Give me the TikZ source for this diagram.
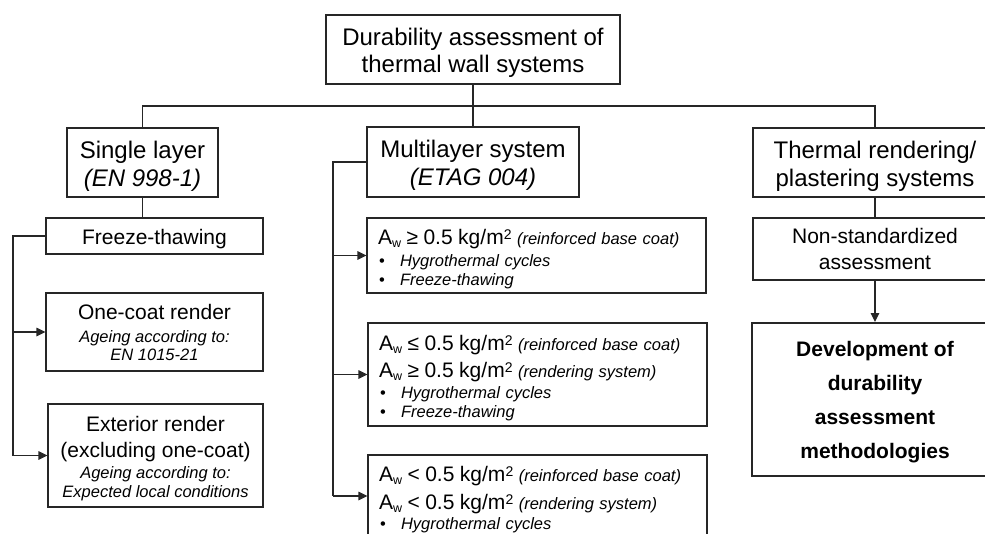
\documentclass[tikz,border=0pt]{standalone}
\usepackage{fontspec}
\setmainfont{Liberation Sans}
\usetikzlibrary{arrows.meta}

\newcommand{\fsbig}{\fontsize{24}{28}\selectfont}
\newcommand{\fsmid}{\fontsize{21}{25}\selectfont}
\newcommand{\fssmall}{\fontsize{16.5}{19}\selectfont}
\newcommand{\topstrut}{\rule{0pt}{1em}}
\newcommand{\awstrut}{\rule{0pt}{23pt}}
\newcommand{\Aw}{A\raisebox{-3pt}{\fontsize{12.5}{12.5}\selectfont w}}
\newcommand{\kgm}{kg/m\raisebox{5.5pt}{\fontsize{14}{14}\selectfont 2}}
\newcommand{\blt}[1]{\makebox[22pt][l]{\hspace{1pt}•}\textit{#1}}

\begin{document}
\begin{tikzpicture}[x=1pt,y=-1pt,
    box/.style={draw=black!85, line width=1.1pt, inner sep=0pt, align=center},
    awbox/.style={box, align=left, text width=317pt, inner xsep=11pt, font=\fssmall},
    conn/.style={draw=black!85, line width=1.1pt},
    arr/.style={conn, -{Triangle[length=9pt,width=8.5pt]}}]
            %frame
            \useasboundingbox (0,0) rectangle (985,533);
            \clip (0,0) rectangle (985,533);

            %top and first level
            \node[box, minimum width=294pt, minimum height=69pt, font=\fontsize{24}{27}\selectfont] (durab) at (473,49.5) {\topstrut Durability assessment of\\thermal wall systems};
            \node[box, minimum width=151pt, minimum height=69pt, font=\fsbig] (single) at (142.5,162.5) {\topstrut Single layer\\\textit{(EN 998-1)}};
            \node[box, minimum width=212pt, minimum height=70pt, font=\fsbig] (multi) at (473,162) {\topstrut Multilayer system\\\textit{(ETAG 004)}};
            \node[box, minimum width=244pt, minimum height=69pt, font=\fsbig] (thermal) at (875,162.5) {\topstrut Thermal rendering/\\plastering systems};

            %left column
            \node[box, minimum width=217pt, minimum height=36pt, font=\fsmid] (freeze) at (154.5,236) {\topstrut Freeze-thawing};
            \node[box, minimum width=217pt, minimum height=78pt, font=\fssmall] (onecoat) at (154.5,332) {{\fsmid One-coat render}\\[4pt]\textit{Ageing according to:}\\[-1pt]\textit{EN 1015-21}};
            \node[box, minimum width=215pt, minimum height=103pt, font=\fssmall] (exter) at (155.5,455.5) {{\fsmid\topstrut Exterior render}\\[7pt]{\fsmid (excluding one-coat)}\\[2pt]\textit{Ageing according to:}\\\textit{Expected local conditions}};

            %middle column
            \node[awbox, minimum height=75pt] (aw1) at (536.5,255.5) {{\fsmid\awstrut\Aw{} ≥ 0.5 \kgm{} \fssmall\textit{(reinforced base coat)}}\\[3pt]\blt{Hygrothermal cycles}\\\blt{Freeze-thawing}};
            \node[awbox, minimum height=103pt] (aw2) at (537.5,374.5) {{\fsmid\awstrut\Aw{} ≤ 0.5 \kgm{} \fssmall\textit{(reinforced base coat)}}\\[6pt]{\fsmid\Aw{} ≥ 0.5 \kgm{} \fssmall\textit{(rendering system)}}\\[2pt]\blt{Hygrothermal cycles}\\\blt{Freeze-thawing}};
            \node[awbox, minimum height=82pt] (aw3) at (537.5,496) {{\fsmid\awstrut\Aw{} < 0.5 \kgm{} \fssmall\textit{(reinforced base coat)}}\\[7pt]{\fsmid\Aw{} < 0.5 \kgm{} \fssmall\textit{(rendering system)}}\\[1pt]\blt{Hygrothermal cycles}};

            %right column
            \node[box, minimum width=244pt, minimum height=62pt, font=\fontsize{21}{26}\selectfont] (nonstd) at (875,249) {Non-standardized\\assessment};
            \node[box, line width=2pt, minimum width=246pt, minimum height=153pt, font=\bfseries\fontsize{21}{34}\selectfont] (devel) at (875,399.5) {\topstrut Development of\\durability\\assessment\\methodologies};

            %connectors
            \coordinate (bus) at (473,106);
            \coordinate (lrail) at (13,0);
            \coordinate (mrail) at (333,0);
            \draw[conn] (durab.south) -- (multi.north);
            \draw[conn] (single.north) |- (bus) -| (thermal.north);
            \draw[conn] (single.south) -- (single.south |- freeze.north);
            \draw[conn] (freeze.west) -| (lrail |- exter.west);
            \draw[arr] (lrail |- onecoat.west) -- (onecoat.west);
            \draw[arr] (lrail |- exter.west) -- (exter.west);
            \draw[conn] (multi.west) -| (mrail |- aw3.west);
            \draw[arr] (mrail |- aw1.west) -- (aw1.west);
            \draw[arr] (mrail |- aw2.west) -- (aw2.west);
            \draw[arr] (mrail |- aw3.west) -- (aw3.west);
            \draw[conn] (thermal.south) -- (nonstd.north);
            \draw[arr] (nonstd.south) -- (devel.north);
\end{tikzpicture}
\end{document}
